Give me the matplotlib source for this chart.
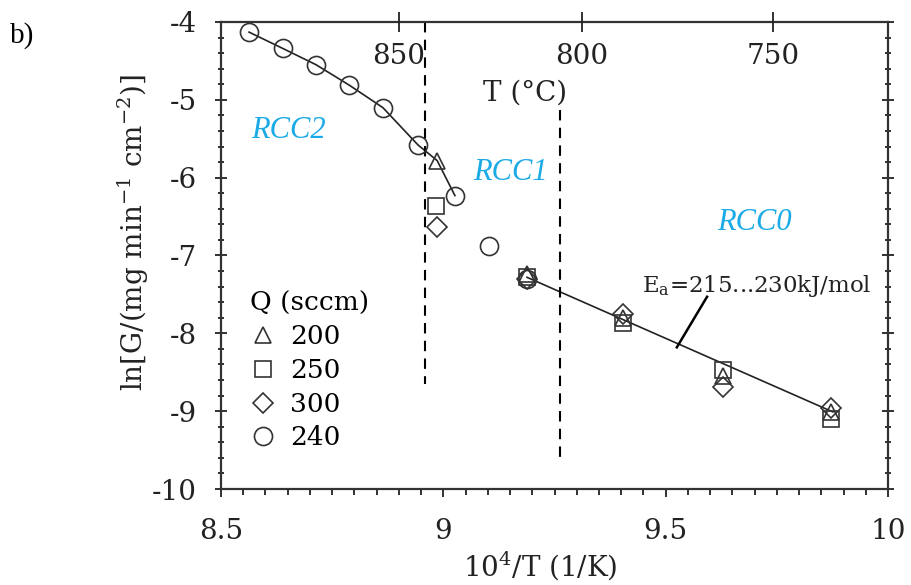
import numpy as np
import matplotlib.pyplot as plt
from matplotlib.ticker import MultipleLocator

plt.rcParams['axes.unicode_minus'] = False
plt.rcParams['font.family'] = 'DejaVu Serif'
plt.rcParams['mathtext.fontset'] = 'dejavuserif'

# Q = 240 sccm (circles)
x_240 = [8.563, 8.639, 8.714, 8.788, 8.864, 8.943, 9.026, 9.103, 9.188]
y_240 = [-4.13, -4.34, -4.55, -4.81, -5.10, -5.58, -6.23, -6.88, -7.30]
# Q = 200 sccm (triangles)
x_200 = [8.986, 9.188, 9.404, 9.629, 9.872]
y_200 = [-5.78, -7.24, -7.80, -8.55, -9.01]
# Q = 250 sccm (squares)
x_250 = [8.984, 9.188, 9.404, 9.629, 9.872]
y_250 = [-6.36, -7.28, -7.87, -8.47, -9.10]
# Q = 300 sccm (diamonds)
x_300 = [8.986, 9.188, 9.404, 9.629, 9.872]
y_300 = [-6.64, -7.30, -7.75, -8.69, -8.96]

# guide curve through the RCC2 points and Arrhenius line for RCC0
curve_x = [8.563, 8.639, 8.714, 8.788, 8.864, 8.943, 8.986, 9.026]
curve_y = [-4.13, -4.34, -4.55, -4.81, -5.10, -5.58, -5.78, -6.23]
fit_x = [9.188, 9.876]
fit_y = [-7.28, -9.01]

# regime boundaries (dashed)
bound1_x, bound1_y = [8.959, 8.959], [-4.0, -8.65]
bound2_x, bound2_y = [9.262, 9.262], [-5.13, -9.59]

# top axis: temperature labels and where they sit on the 1e4/T scale
temp_labels = ['850', '800', '750']
temp_pos = [8.900, 9.312, 9.741]

fig = plt.figure(figsize=(9.11, 5.85), dpi=100)
ax = fig.add_axes([0.2426, 0.1641, 0.7322, 0.7983])

ink = '#222222'
ax.plot(curve_x, curve_y, color=ink, lw=1.2)
ax.plot(fit_x, fit_y, color=ink, lw=1.2)
ax.plot(bound1_x, bound1_y, color='black', lw=1.5, ls=(0, (5, 3.5)))
ax.plot(bound2_x, bound2_y, color='black', lw=1.5, ls=(0, (5, 3.5)))

mk = dict(ls='none', mfc='none', mec='#333333', mew=1.2)
h200, = ax.plot(x_200, y_200, marker='^', ms=11, label='200', **mk)
h250, = ax.plot(x_250, y_250, marker='s', ms=11, label='250', **mk)
h300, = ax.plot(x_300, y_300, marker='D', ms=10, label='300', **mk)
h240, = ax.plot(x_240, y_240, marker='o', ms=13, label='240', **mk)

ax.set_xlim(8.5, 10)
ax.set_ylim(-10, -4)
ax.set_xticks([8.5, 9, 9.5, 10])
ax.set_xticklabels(['8.5', '9', '9.5', '10'])
ax.set_yticks(range(-10, -3))
ax.xaxis.set_minor_locator(MultipleLocator(0.05))
ax.yaxis.set_minor_locator(MultipleLocator(0.2))
ax.tick_params(which='both', right=True, top=False, colors=ink,
               labelsize=20, width=1.3)
ax.tick_params(axis='y', which='both', direction='inout')
ax.tick_params(axis='x', which='both', direction='out')
ax.tick_params(axis='y', which='major', length=9, pad=13)
ax.tick_params(axis='x', which='major', length=6, pad=15)
ax.tick_params(which='minor', length=4)
for s in ax.spines.values():
    s.set_linewidth(1.6)
    s.set_color('#333333')

# top axis in degrees Celsius
top = ax.twiny()
top.set_xlim(ax.get_xlim())
top.set_xticks(temp_pos)
top.set_xticklabels(temp_labels)
top.tick_params(direction='inout', length=15, width=1.3, labelsize=20,
                colors=ink, pad=-42)
for s in top.spines.values():
    s.set_visible(False)
ax.text(0.456, 0.848, 'T (°C)', transform=ax.transAxes, fontsize=20,
        color=ink, ha='center', va='center')

ax.set_ylabel(r'ln[G/(mg min$^{\mathregular{-1}}$ cm$^{\mathregular{-2}}$)]',
              fontsize=20, color=ink)
ax.yaxis.set_label_coords(-0.105, 0.55)
ax.set_xlabel(r'10$^{\mathregular{4}}$/T (1/K)', fontsize=20, color=ink)
ax.xaxis.set_label_coords(0.478, -0.128)

leg = ax.legend(handles=[h200, h250, h300, h240], title='Q (sccm)',
                loc='upper left', bbox_to_anchor=(0.024, 0.453), frameon=False,
                fontsize=19, title_fontsize=19, handlelength=1.0,
                handletextpad=0.5, labelspacing=0.33, borderpad=0)
leg._legend_box.align = 'left'

# activation energy label
ax.plot([9.525, 9.593], [-8.18, -7.53], color='black', lw=1.8)
ax.text(9.447, -7.47, r'E$_{\mathregular{a}}$=215...230kJ/mol', fontsize=16.5,
        color=ink, ha='left', va='baseline')

blue = '#1AAAE6'
rcc = dict(color=blue, fontsize=22, style='italic', family='Liberation Serif',
           ha='center', va='center')
ax.text(8.651, -5.40, 'RCC2', **rcc)
ax.text(9.152, -5.93, 'RCC1', **rcc)
ax.text(9.699, -6.58, 'RCC0', **rcc)

fig.text(0.011, 0.94, 'b)', fontsize=21, family='Liberation Serif',
         ha='left', va='center')

fig.savefig('out.png', dpi=100)
